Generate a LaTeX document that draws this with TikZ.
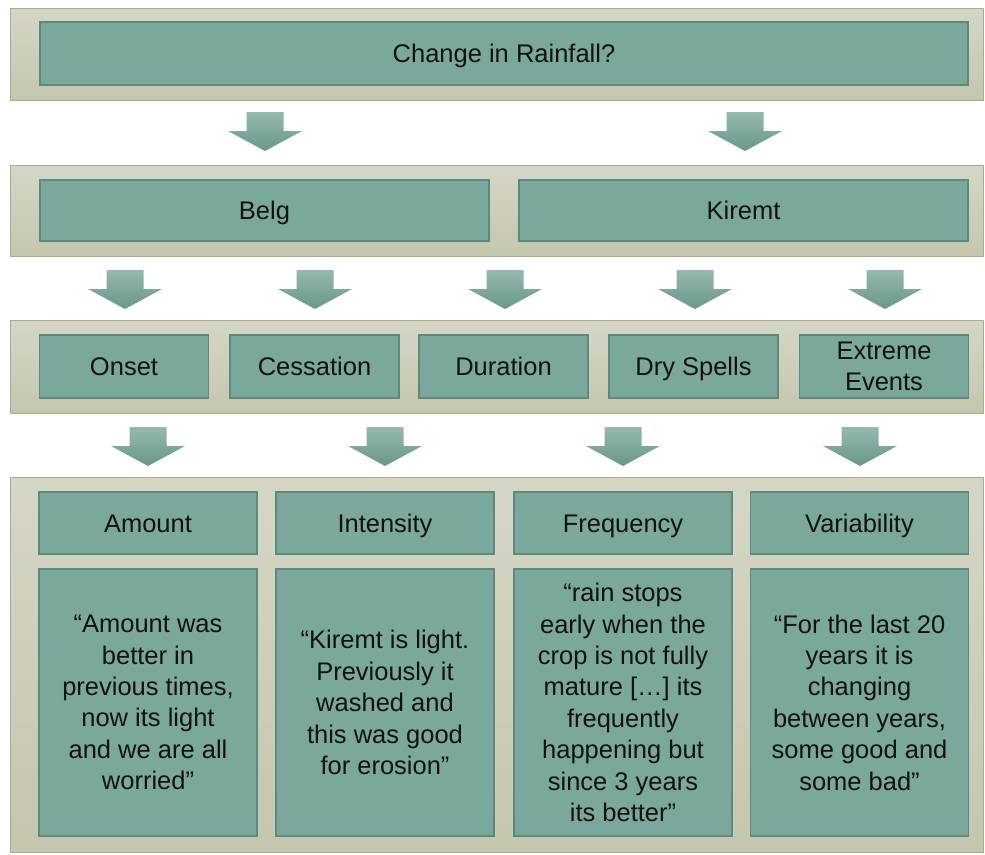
\documentclass[tikz,border=0pt]{standalone}
\usepackage{fontspec}
\setmainfont{Liberation Sans}
\definecolor{bandtop}{HTML}{D5D6C6}
\definecolor{bandbot}{HTML}{C4C6AE}
\definecolor{bandline}{HTML}{A9AF88}
\definecolor{boxfill}{HTML}{7BA89C}
\definecolor{boxline}{HTML}{5E897D}
\definecolor{arrtop}{HTML}{95B9AF}
\definecolor{arrbot}{HTML}{6A978B}
\definecolor{txt}{HTML}{111111}
\newcommand\blockarrowat[2]{%
  \shade[top color=arrtop, bottom color=arrbot]
    (#1-18.5,#2) -- (#1+18.5,#2) -- (#1+18.5,#2+19) -- (#1+37,#2+19)
    -- (#1,#2+39) -- (#1-37,#2+19) -- (#1-18.5,#2+19) -- cycle;}
\begin{document}
\begin{tikzpicture}[x=1pt,y=-1pt,
  band/.style={draw=bandline, line width=1pt, top color=bandtop, bottom color=bandbot},
  box/.style={draw=boxline, line width=1.8pt, fill=boxfill, inner sep=0pt, align=center,
    font=\fontsize{25.5}{31.4}\selectfont, text=txt},
  oneline/.style={text height=22pt, text depth=3.6pt}]
\useasboundingbox (0,0) rectangle (985,854);
% bands
\path[band] (10,8) rectangle (983,100);
\path[band] (10,165) rectangle (983,256);
\path[band] (10,320) rectangle (983,413);
\path[band] (10,477) rectangle (983,852);
% row 1
\node[box, oneline, minimum width=928, minimum height=63] (change) at (504,53.5) {Change in Rainfall?};
% arrows 1
\blockarrowat{265}{112}
\blockarrowat{745}{112}
% row 2
\node[box, oneline, minimum width=449, minimum height=61] (belg) at (264.5,210.5) {Belg};
\node[box, oneline, minimum width=449, minimum height=61] (kiremt) at (743.5,210.5) {Kiremt};
% arrows 2
\foreach \cx in {125,315,505,695,885} {\blockarrowat{\cx}{270}}
% row 3
\node[box, oneline, minimum width=169, minimum height=63] (onset) at (124,366.5) {Onset};
\node[box, oneline, minimum width=169, minimum height=63] (cessation) at (314.5,366.5) {Cessation};
\node[box, oneline, minimum width=169, minimum height=63] (duration) at (503.5,366.5) {Duration};
\node[box, oneline, minimum width=169, minimum height=63] (dry) at (693.5,366.5) {Dry Spells};
\node[box, minimum width=169, minimum height=63] (extreme) at (884,366.5) {Extreme\\Events};
% arrows 3
\foreach \cx in {148,385,623,860} {\blockarrowat{\cx}{427}}
% row 4 headers
\node[box, oneline, minimum width=218, minimum height=62] (amount) at (148,523) {Amount};
\node[box, oneline, minimum width=218, minimum height=62] (intensity) at (385,523) {Intensity};
\node[box, oneline, minimum width=218, minimum height=62] (frequency) at (623,523) {Frequency};
\node[box, oneline, minimum width=218, minimum height=62] (variability) at (859.5,523) {Variability};
% row 4 quotes
\node[box, minimum width=218, minimum height=267] (qamount) at (148,702.5)
  {“Amount was\\better in\\previous times,\\now its light\\and we are all\\worried”};
\node[box, minimum width=218, minimum height=267] (qintensity) at (385,702.5)
  {“Kiremt is light.\\Previously it\\washed and\\this was good\\for erosion”};
\node[box, minimum width=218, minimum height=267] (qfrequency) at (623,702.5)
  {“rain stops\\early when the\\crop is not fully\\mature […] its\\frequently\\happening but\\since 3 years\\its better”};
\node[box, minimum width=218, minimum height=267] (qvariability) at (859.5,702.5)
  {“For the last 20\\years it is\\changing\\between years,\\some good and\\some bad”};
\end{tikzpicture}
\end{document}
